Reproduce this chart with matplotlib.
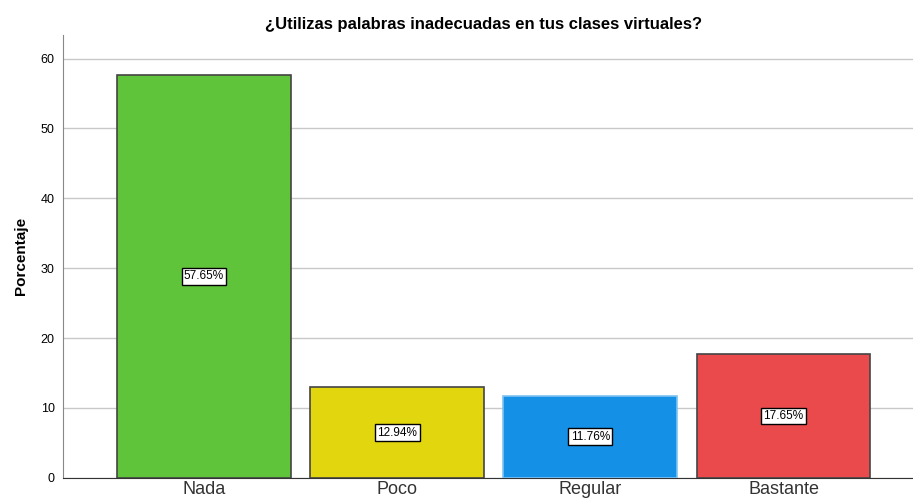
import numpy as np
import matplotlib.pyplot as plt

plt.rcParams['font.family'] = ['Liberation Sans', 'DejaVu Sans']

categorias = ['Nada', 'Poco', 'Regular', 'Bastante']
porcentajes = [57.65, 12.94, 11.76, 17.65]
colores = ['#5FC43A', '#E2D70F', '#1490E6', '#EB4A4C']
bordes = ['#444444', '#444444', '#7EC3F2', '#444444']

fig = plt.figure(figsize=(9.13, 5.04), dpi=100)
ax = fig.add_axes([0.069, 0.052, 0.931, 0.879])

x = np.arange(len(categorias))
ax.bar(x, porcentajes, width=0.9, color=colores, edgecolor=bordes, linewidth=1.2, zorder=3)

for xi, v in zip(x, porcentajes):
    ax.text(xi, v / 2, f'{v:.2f}%', ha='center', va='center', fontsize=8.5, zorder=4,
            bbox=dict(boxstyle='square,pad=0.2', facecolor='white', edgecolor='black', linewidth=1))

ax.set_xlim(-0.73, 3.67)
ax.set_ylim(0, 63.4)
ax.set_yticks([0, 10, 20, 30, 40, 50, 60])
ax.set_xticks(x)
ax.set_xticklabels(categorias, fontsize=13, color='#333333')
ax.tick_params(axis='x', length=0, pad=2)
ax.tick_params(axis='y', length=0, labelsize=9, pad=6)
ax.yaxis.grid(True, color='#C8C8C8', linewidth=1, zorder=0)

for s in ['top', 'right']:
    ax.spines[s].set_visible(False)
ax.spines['left'].set_color('#888888')
ax.spines['bottom'].set_color('#333333')

ax.set_ylabel('Porcentaje', fontsize=11, fontweight='bold', labelpad=9)
ax.set_title('¿Utilizas palabras inadecuadas en tus clases virtuales?', fontsize=12,
             fontweight='bold', pad=4, x=0.495)

plt.savefig('out.png', dpi=100)
